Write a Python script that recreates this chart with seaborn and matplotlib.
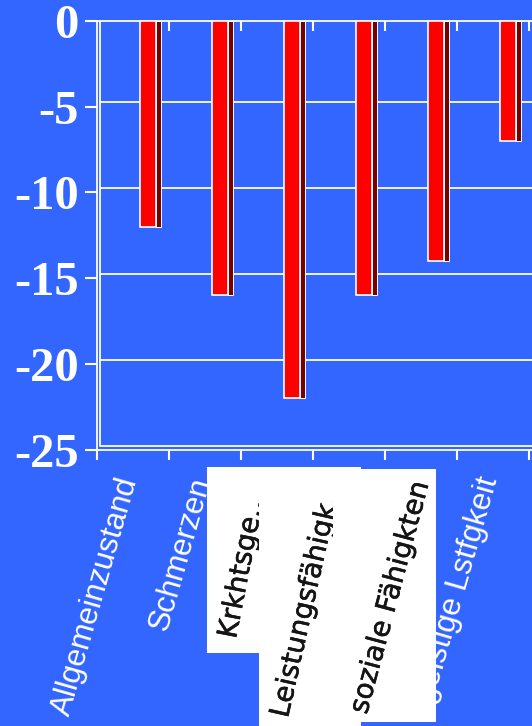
import numpy as np
import pandas as pd
import matplotlib
matplotlib.use("Agg")
import matplotlib.pyplot as plt
import seaborn as sns
from matplotlib.transforms import ScaledTranslation
from matplotlib.patches import Rectangle
import matplotlib.patheffects as pe

# ---- data ----
categories = ["Allgemeinzustand", "Schmerzen", "Krkhtsge...",
              "Leistungsfähigk...", "soziale Fähigkten", "geistige Lstfgkeit"]
values = [-12, -16, -22, -16, -14, -7]
yticks = [0, -5, -10, -15, -20, -25]
ytick_labels = ["0", "-5", "-10", "-15", "-20", "-25"]

BG = "#3366FF"
W, H = 532, 726

sns.set_theme(style="white")
plt.rcParams['font.family'] = ['Liberation Sans', 'DejaVu Sans']

fig = plt.figure(figsize=(W / 100, H / 100), dpi=100, facecolor=BG)
ax = fig.add_axes([97 / W, 1 - 450 / H, 1 - 97 / W, (450 - 20.7) / H])
ax.set_facecolor(BG)

n = len(categories)
pos = np.arange(n)
df = pd.DataFrame({"front": pos + 0.21, "side": pos + 0.21 + 0.115 + 0.035,
                   "value": values})

# side face (dark) and front face (red)
sns.barplot(data=df, x="side", y="value", native_scale=True, width=0.07,
            color="#7A0000", saturation=1, edgecolor="white", linewidth=0.7,
            errorbar=None, ax=ax, zorder=3)
sns.barplot(data=df, x="front", y="value", native_scale=True, width=0.23,
            color="#FF0000", saturation=1, edgecolor="white", linewidth=1.2,
            errorbar=None, ax=ax, zorder=4)

ax.set_xlim(-0.5, -0.5 + (W - 97) / 72)
ax.set_ylim(-25, 0)
ax.set_xlabel("")
ax.set_ylabel("")

# back-wall grid lines (offset up/right for the 3D look)
off = ScaledTranslation(3 / 100, 4.5 / 100, fig.dpi_scale_trans)
tr = ax.get_yaxis_transform() + off
for v in yticks:
    ax.plot([0, 1], [v, v], transform=tr, color="white", lw=1.3, zorder=1,
            solid_capstyle="butt")
ax.plot([0, 0], [0, 1], transform=ax.transAxes + off, color="white", lw=1.3,
        zorder=1)

# spines
for s in ["left", "bottom", "top"]:
    ax.spines[s].set_color("white")
    ax.spines[s].set_linewidth(1.3)
ax.spines["right"].set_visible(False)

# y ticks
ax.set_yticks(yticks)
ax.set_yticklabels(ytick_labels, fontsize=35, fontweight="bold",
                   family="Liberation Serif", color="white")
ax.tick_params(axis="y", which="major", left=True, direction="out",
               length=9, width=1.5, color="white", pad=4)

# x ticks: boundaries as minor ticks, labels at centres
ax.set_xticks(pos)
ax.set_xticks(np.arange(n + 1) - 0.5, minor=True)
white_labels = [c if i in (0, 1, 5) else "" for i, c in enumerate(categories)]
ax.set_xticklabels(white_labels, rotation=74, ha="right", va="center",
                   rotation_mode="anchor", fontsize=22.5, color="white")
ax.tick_params(axis="x", which="major", length=0, pad=20)
ax.tick_params(axis="x", which="minor", bottom=True, direction="out",
               length=7, width=1.5, color="white")
lab_off = ScaledTranslation(-3 / 100, 0, fig.dpi_scale_trans)
for t in ax.get_xticklabels():
    t.set_transform(t.get_transform() + lab_off)

sec = ax.secondary_xaxis("top")
sec.set_xticks(np.arange(1, n + 1) - 0.5)
sec.set_xticklabels([])
sec.tick_params(direction="in", length=7, width=1.5, color="white")
sec.spines["top"].set_visible(False)

# pasted white label patches with black text
def rect(x0, y0, x1, y1, z):
    r = Rectangle((x0 / W, 1 - y1 / H), (x1 - x0) / W, (y1 - y0) / H,
                  transform=fig.transFigure, facecolor="white",
                  edgecolor="none", zorder=z)
    fig.patches.append(r)
    return r

def lab(txt, x, y, rot, size, z):
    t = fig.text(x / W, 1 - y / H, txt, rotation=rot, rotation_mode="anchor",
                 ha="left", va="center", fontsize=size, color="#151515",
                 family="DejaVu Sans", zorder=z)
    t.set_path_effects([pe.withStroke(linewidth=0.4, foreground="#151515")])
    return t

rect(207, 467, 361, 653, 2)
lab(categories[2], 228, 638, 79, 20, 3)
rect(259, 467, 361, 726, 4)
lab(categories[3], 280, 717, 77.3, 20, 5)
rect(333, 469, 436, 722, 6)
lab(categories[4], 359, 713, 75, 20, 7)

fig.savefig("out.png", dpi=100, facecolor=BG)
